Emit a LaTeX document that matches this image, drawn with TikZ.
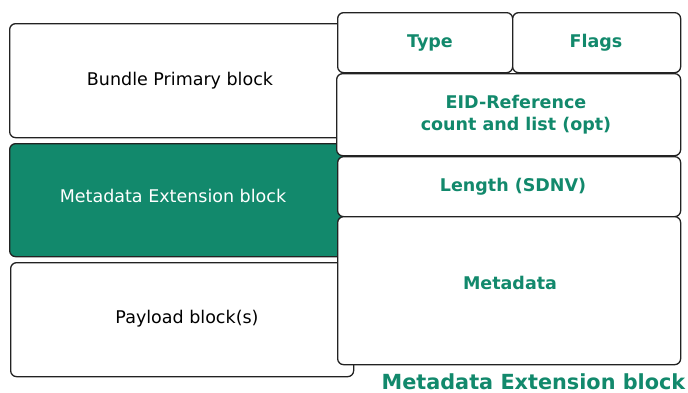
\documentclass[tikz,border=0pt]{standalone}
\usepackage{fontspec}
\setmainfont{DejaVu Sans}
\definecolor{teal1}{RGB}{18,137,108}
\definecolor{edge}{RGB}{34,34,34}
\tikzset{
  blk/.style={draw=edge, line width=1.3pt, rounded corners=6pt, fill=white, inner sep=0pt, anchor=north west},
  lbl/.style={font=\fontsize{17.5}{21}\selectfont, text=black, inner sep=0pt},
  flbl/.style={font=\fontsize{17.5}{22}\selectfont\bfseries, text=teal1, inner sep=0pt, align=center},
}
\begin{document}
\begin{tikzpicture}[x=1pt,y=-1pt]
\useasboundingbox (0,0) rectangle (688,392);
% left column
\node[blk, minimum width=344pt, minimum height=114pt] (prim) at (9,23) {};
\node[blk, fill=teal1, minimum width=344pt, minimum height=113pt] (meb) at (9,143) {};
\node[blk, minimum width=343pt, minimum height=114pt] (pay) at (10,262) {};
\node[lbl] (primt) at (180,81) {Bundle Primary block};
\node[lbl, text=white] (mebt) at (173,196) {Metadata Extension block};
\node[lbl] (payt) at (187,319) {Payload block(s)};
% right column
\node[blk, minimum width=175pt, minimum height=60pt] (type) at (337,12) {};
\node[blk, minimum width=168pt, minimum height=60pt] (flags) at (512,12) {};
\node[blk, minimum width=344pt, minimum height=82pt] (eid) at (336,73) {};
\node[blk, minimum width=343pt, minimum height=60pt] (len) at (337,156) {};
\node[blk, minimum width=343pt, minimum height=148pt] (md) at (337,216) {};
\node[flbl] (typet) at (430,43) {Type};
\node[flbl] (flagst) at (596,43) {Flags};
\node[flbl] (eidt) at (516,115) {EID-Reference\\ count and list (opt)};
\node[flbl] (lent) at (513,187) {Length (SDNV)};
\node[flbl] (mdt) at (510,283) {Metadata};
% caption
\node[font=\fontsize{20.8}{24}\selectfont\bfseries, text=teal1, inner sep=0pt, anchor=base east] (cap) at (685.5,389) {Metadata Extension block};
\end{tikzpicture}
\end{document}
